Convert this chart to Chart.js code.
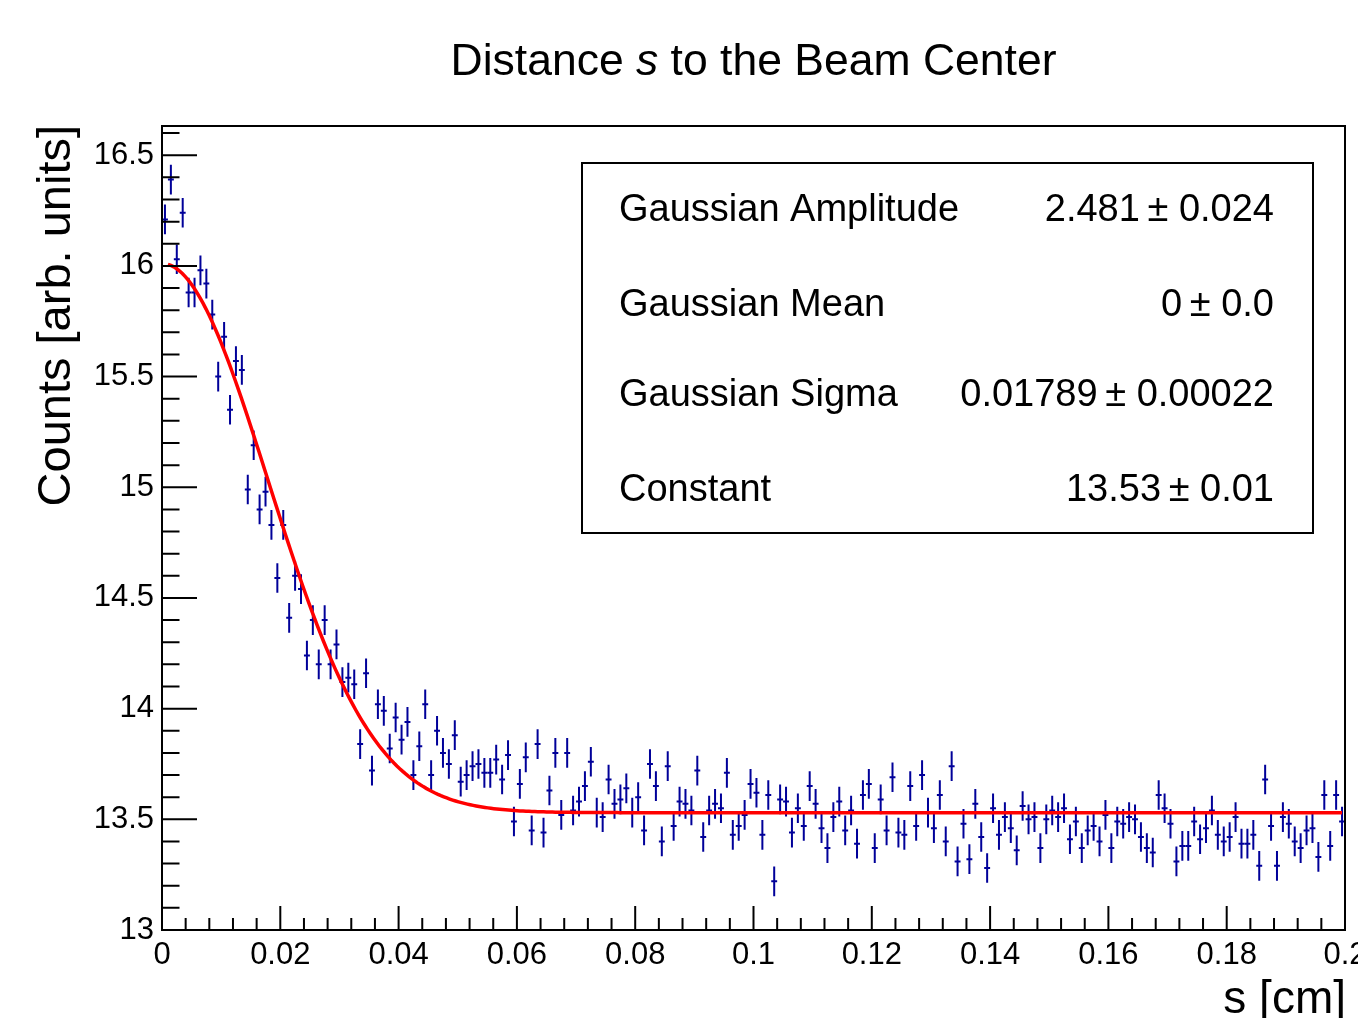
<!DOCTYPE html>
<html><head><meta charset="utf-8">
<script src="https://cdn.jsdelivr.net/npm/chart.js@4.4.0/dist/chart.umd.min.js"></script>
<style>html,body{margin:0;padding:0;background:#fff;overflow:hidden}#wrap{position:relative;width:1358px;height:1018px}canvas{display:block}</style>
</head><body><div id="wrap"><canvas id="c" width="1358" height="1018"></canvas></div>
<script>
// ---- data ----
const BIN_LOW = 0;
const BIN_WIDTH = 0.001;
const counts = [
16.21,16.39,16.03,16.24,15.88,15.88,15.98,15.92,15.78,15.50,
15.68,15.35,15.57,15.53,14.99,15.19,14.90,14.98,14.83,14.59,
14.83,14.41,14.60,14.54,14.24,14.40,14.20,14.40,14.20,14.29,
14.12,14.14,14.11,13.84,14.16,13.72,14.02,13.99,13.82,13.96,
13.86,13.94,13.70,13.83,14.02,13.70,13.90,13.80,13.75,13.88,
13.67,13.70,13.74,13.75,13.71,13.71,13.77,13.68,13.79,13.49,
13.66,13.78,13.45,13.84,13.44,13.63,13.80,13.52,13.80,13.54,
13.58,13.65,13.76,13.53,13.51,13.68,13.57,13.59,13.64,13.53,
13.60,13.45,13.75,13.65,13.40,13.74,13.47,13.58,13.57,13.54,
13.72,13.42,13.54,13.57,13.55,13.71,13.43,13.47,13.52,13.66,
13.62,13.43,13.61,13.22,13.59,13.58,13.44,13.55,13.47,13.65,
13.57,13.46,13.37,13.51,13.58,13.45,13.54,13.39,13.61,13.66,
13.37,13.59,13.45,13.69,13.44,13.43,13.65,13.47,13.70,13.53,
13.46,13.61,13.40,13.74,13.31,13.48,13.32,13.57,13.42,13.28,
13.55,13.43,13.51,13.46,13.36,13.56,13.50,13.51,13.37,13.50,
13.54,13.51,13.55,13.41,13.49,13.37,13.45,13.47,13.40,13.52,
13.37,13.49,13.48,13.51,13.50,13.42,13.37,13.35,13.61,13.55,
13.48,13.31,13.38,13.38,13.49,13.41,13.46,13.54,13.43,13.40,
13.42,13.51,13.39,13.39,13.43,13.29,13.68,13.47,13.29,13.51,
13.48,13.40,13.37,13.45,13.46,13.33,13.61,13.38,13.61,13.49
];
const countErr = 0.067;

const fitAmp = 2.481, fitMean = 0, fitSigma = 0.01789, fitConst = 13.53;
const fitRangeLow = 0.001, fitRangeHigh = 0.1995;

const xTickValues = [0,0.02,0.04,0.06,0.08,0.1,0.12,0.14,0.16,0.18,0.2];
const xTickLabels = ["0","0.02","0.04","0.06","0.08","0.1","0.12","0.14","0.16","0.18","0.2"];
const yTickValues = [13,13.5,14,14.5,15,15.5,16,16.5];
const yTickLabels = ["13","13.5","14","14.5","15","15.5","16","16.5"];

const titleParts = ["Distance ", "s", " to the Beam Center"];
const yTitle = "Counts [arb. units]";
const xTitle = "s [cm]";
const statNames = ["Gaussian Amplitude","Gaussian Mean","Gaussian Sigma","Constant"];
const statValues = ["2.481\u2009\u00B1 0.024","0\u2009\u00B1 0.0","0.01789\u2009\u00B1 0.00022","13.53\u2009\u00B1 0.01"];

// ---- derived tables ----
const points = counts.map((v,i)=>({x: BIN_LOW + (i+0.5)*BIN_WIDTH, y: v}));
const fitPts = [];
for (let k=0;k<=400;k++){
  const x = fitRangeLow + (fitRangeHigh-fitRangeLow)*k/400;
  fitPts.push({x, y: fitConst + fitAmp*Math.exp(-0.5*Math.pow((x-fitMean)/fitSigma,2))});
}

const FONT = "'Liberation Sans', Arial, Helvetica, sans-serif";
const BLUE = '#000099';

const errorBars = {
  id:'errorBars',
  beforeDatasetsDraw(chart){
    const ctx=chart.ctx, xs=chart.scales.x, ys=chart.scales.y, a=chart.chartArea;
    ctx.save();
    ctx.beginPath(); ctx.rect(a.left,a.top,a.right-a.left,a.bottom-a.top); ctx.clip();
    ctx.strokeStyle=BLUE; ctx.lineWidth=2;
    points.forEach(p=>{
      const px=xs.getPixelForValue(p.x), py=ys.getPixelForValue(p.y);
      const y1=ys.getPixelForValue(p.y-countErr), y2=ys.getPixelForValue(p.y+countErr);
      const x1=xs.getPixelForValue(p.x-BIN_WIDTH/2), x2=xs.getPixelForValue(p.x+BIN_WIDTH/2);
      ctx.beginPath();
      ctx.moveTo(px,y1); ctx.lineTo(px,y2);
      ctx.moveTo(x1,py); ctx.lineTo(x2,py);
      ctx.stroke();
    });
    ctx.restore();
  }
};

const frameAndDecor = {
  id:'frameAndDecor',
  afterDraw(chart){
    const ctx=chart.ctx, xs=chart.scales.x, ys=chart.scales.y, a=chart.chartArea;
    ctx.save();
    ctx.strokeStyle='#000'; ctx.lineWidth=2;
    ctx.strokeRect(a.left,a.top,a.right-a.left,a.bottom-a.top);
    // inside ticks
    const yMajLen=35, yMinLen=17.5, xMajLen=24, xMinLen=12;
    ctx.beginPath();
    for (let k=0;k<=36;k++){
      const v=13+k*0.1; const py=ys.getPixelForValue(v);
      if (py<a.top-0.5) continue;
      const major = (k%5===0);
      ctx.moveTo(a.left,py); ctx.lineTo(a.left+(major?yMajLen:yMinLen),py);
    }
    for (let k=0;k<=50;k++){
      const v=k*0.004; const px=xs.getPixelForValue(v);
      const major=(k%5===0);
      ctx.moveTo(px,a.bottom); ctx.lineTo(px,a.bottom-(major?xMajLen:xMinLen));
    }
    ctx.stroke();

    // title
    ctx.fillStyle='#000';
    ctx.textBaseline='alphabetic';
    const fN='44.5px '+FONT, fI='italic 44.5px '+FONT;
    ctx.font=fN; const w0=ctx.measureText(titleParts[0]).width, w2=ctx.measureText(titleParts[2]).width;
    ctx.font=fI; const w1=ctx.measureText(titleParts[1]).width;
    let tx=753.5-(w0+w1+w2)/2; const ty=75;
    ctx.textAlign='left';
    ctx.font=fN; ctx.fillText(titleParts[0],tx,ty); tx+=w0;
    ctx.font=fI; ctx.fillText(titleParts[1],tx,ty); tx+=w1;
    ctx.font=fN; ctx.fillText(titleParts[2],tx,ty);

    // y title
    ctx.save();
    ctx.translate(70,a.top-1);
    ctx.rotate(-Math.PI/2);
    ctx.font='47px '+FONT; ctx.textAlign='right';
    ctx.fillText(yTitle,0,0);
    ctx.restore();

    // x title
    ctx.font='46px '+FONT; ctx.textAlign='right';
    ctx.fillText(xTitle,a.right+1,1013);

    // stats box
    ctx.fillStyle='#fff';
    ctx.fillRect(582,163,731,370);
    ctx.strokeStyle='#000'; ctx.lineWidth=2;
    ctx.strokeRect(582,163,731,370);
    ctx.fillStyle='#000'; ctx.font='38px '+FONT;
    const rowBase=[221,316,406,501];
    statNames.forEach((n,i)=>{
      ctx.textAlign='left'; ctx.fillText(n,619,rowBase[i]);
      ctx.textAlign='right'; ctx.fillText(statValues[i],1274,rowBase[i]);
    });
    ctx.restore();
  }
};

new Chart(document.getElementById('c'),{
  type:'scatter',
  data:{datasets:[
    {label:'fit', data:fitPts, showLine:true, borderColor:'#ff0000', borderWidth:3.5, pointRadius:0, tension:0, fill:false},
    {label:'data', data:points, showLine:false, pointRadius:0, borderColor:BLUE, backgroundColor:BLUE}
  ]},
  options:{
    responsive:false, animation:false, devicePixelRatio:1,
    layout:{padding:{top:126,right:13,left:0,bottom:0}},
    plugins:{legend:{display:false}, tooltip:{enabled:false}, title:{display:false}},
    scales:{
      x:{type:'linear', min:0, max:0.2,
        grid:{display:false, drawTicks:false}, border:{display:false},
        ticks:{font:{family:FONT,size:31}, color:'#000', padding:7, maxRotation:0, autoSkip:false, includeBounds:false,
          callback:(v,i)=>xTickLabels[i]},
        afterBuildTicks:s=>{s.ticks=xTickValues.map(v=>({value:v}));},
        afterFit:s=>{s.height=88; s.paddingLeft=0; s.paddingRight=0;}
      },
      y:{type:'linear', min:13, max:16.632,
        grid:{display:false, drawTicks:false}, border:{display:false},
        ticks:{font:{family:FONT,size:31}, color:'#000', padding:8, autoSkip:false, includeBounds:false,
          callback:(v,i)=>yTickLabels[i]},
        afterBuildTicks:s=>{s.ticks=yTickValues.map(v=>({value:v}));},
        afterFit:s=>{s.width=162; s.paddingTop=0; s.paddingBottom=0;}
      }
    }
  },
  plugins:[errorBars, frameAndDecor]
});
</script></body></html>
